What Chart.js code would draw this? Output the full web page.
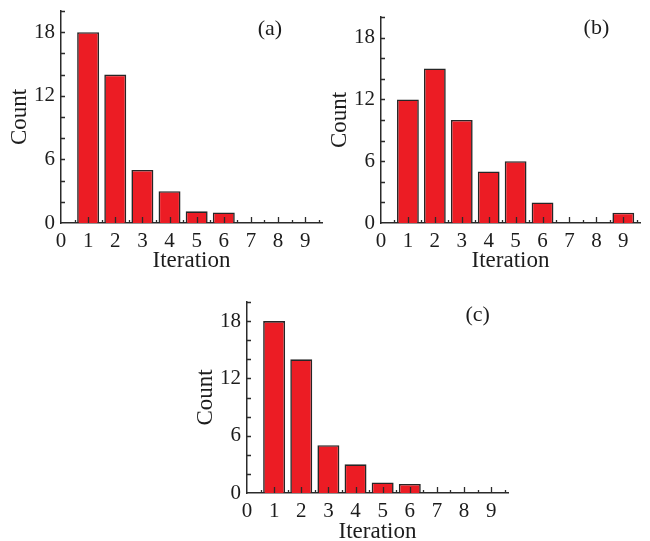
<!DOCTYPE html>
<html>
<head>
<meta charset="utf-8">
<script src="https://cdn.jsdelivr.net/npm/chart.js@4"></script>
<style>
  html, body { margin: 0; padding: 0; background: #fff; overflow: hidden; }
  body { width: 650px; height: 541px; position: relative; }
  .panel { position: absolute; }
</style>
</head>
<body>
<div class="panel" style="left:0px;top:0px;width:335px;height:280px"><canvas id="chartA"></canvas></div>
<div class="panel" style="left:320px;top:0px;width:330px;height:280px"><canvas id="chartB"></canvas></div>
<div class="panel" style="left:186px;top:280px;width:335px;height:275px"><canvas id="chartC"></canvas></div>
<script>
const iterations = [1, 2, 3, 4, 5, 6, 7, 8, 9];
const countsA = [18, 14, 5, 3, 1.1, 1, 0, 0, 0];
const countsB = [12, 15, 10, 5, 6, 2, 0, 0, 1];
const countsC = [18, 14, 5, 3, 1.1, 0.95, 0, 0, 0];
const xTickLabels = [0, 1, 2, 3, 4, 5, 6, 7, 8, 9];
const yTickLabels = [0, 6, 12, 18];
const panelLabels = ["(a)", "(b)", "(c)"];

const serif = "'Liberation Serif', 'Times New Roman', serif";
const ink = "#1c1c1c";

// little inward tick marks, drawn over the bars like in the figure
const innerTicks = {
  id: "innerTicks",
  afterDatasetsDraw(chart) {
    const { ctx, chartArea, scales } = chart;
    ctx.save();
    ctx.strokeStyle = "#2b2b2b";
    ctx.lineWidth = 1.3;
    ctx.beginPath();
    for (let v = 0.5; v <= scales.x.max; v += 0.5) {
      const px = Math.round(scales.x.getPixelForValue(v)) + 0.5;
      const len = Number.isInteger(v) ? 6 : 3;
      ctx.moveTo(px, chartArea.bottom);
      ctx.lineTo(px, chartArea.bottom - len);
    }
    for (let v = 2; v <= scales.y.max; v += 2) {
      const py = Math.round(scales.y.getPixelForValue(v)) + 0.5;
      ctx.moveTo(chartArea.left, py);
      ctx.lineTo(chartArea.left + 4, py);
    }
    ctx.stroke();
    const tag = chart.options.plugins.panelTag;
    ctx.fillStyle = ink;
    ctx.font = "22px " + serif;
    ctx.textAlign = "center";
    ctx.textBaseline = "middle";
    ctx.fillText(tag.text, scales.x.getPixelForValue(tag.x), scales.y.getPixelForValue(tag.y));
    ctx.restore();
  },
};

function makePanel(id, counts, label, tagX, tagY, padTop, padRight, xHeight, titlePad) {
  const points = iterations
    .map((it, i) => ({ x: it, y: counts[i] }))
    .filter((p) => p.y > 0);
  return new Chart(document.getElementById(id), {
    type: "bar",
    data: {
      datasets: [
        {
          data: points,
          backgroundColor: "#ec1c24",
          borderColor: "#262626",
          borderWidth: 1.6,
          barPercentage: 0.81,
          categoryPercentage: 1,
        },
      ],
    },
    options: {
      responsive: true,
      maintainAspectRatio: false,
      animation: false,
      layout: { padding: { top: padTop, right: padRight, left: 0, bottom: 0 } },
      plugins: {
        legend: { display: false },
        tooltip: { enabled: false },
        panelTag: { text: label, x: tagX, y: tagY },
      },
      scales: {
        x: {
          type: "linear",
          min: 0,
          max: 9.62,
          offset: false,
          grid: { display: false, drawTicks: false },
          border: { display: true, color: "#2b2b2b", width: 1.5 },
          afterFit: (s) => {
            s.height = xHeight;
            s.paddingLeft = 0;
            s.paddingRight = 0;
          },
          afterBuildTicks: (s) => { s.ticks = xTickLabels.map((v) => ({ value: v })); },
          ticks: {
            includeBounds: false,
            padding: 6,
            maxRotation: 0,
            autoSkip: false,
            color: ink,
            font: { family: serif, size: 21 },
          },
          title: {
            display: true,
            text: "Iteration",
            color: ink,
            font: { family: serif, size: 23 },
            padding: { top: 0, bottom: titlePad },
          },
        },
        y: {
          min: 0,
          max: 20,
          grid: { display: false, drawTicks: false },
          border: { display: true, color: "#2b2b2b", width: 1.5 },
          afterFit: (s) => {
            s.width = 61;
            s.paddingTop = 0;
            s.paddingBottom = 0;
          },
          afterBuildTicks: (s) => { s.ticks = yTickLabels.map((v) => ({ value: v })); },
          ticks: {
            padding: 6,
            color: ink,
            font: { family: serif, size: 21 },
          },
          title: {
            display: true,
            text: "Count",
            color: ink,
            font: { family: serif, size: 23 },
            padding: { top: 6, bottom: 0 },
          },
        },
      },
    },
    plugins: [innerTicks],
  });
}

makePanel("chartA", countsA, panelLabels[0], 7.7, 18.3, 11, 13, 57, 5);
makePanel("chartB", countsB, panelLabels[1], 8.0, 18.9, 17, 10, 57, 5);
makePanel("chartC", countsC, panelLabels[2], 8.5, 18.6, 22, 13, 62, 9);
</script>
</body>
</html>
